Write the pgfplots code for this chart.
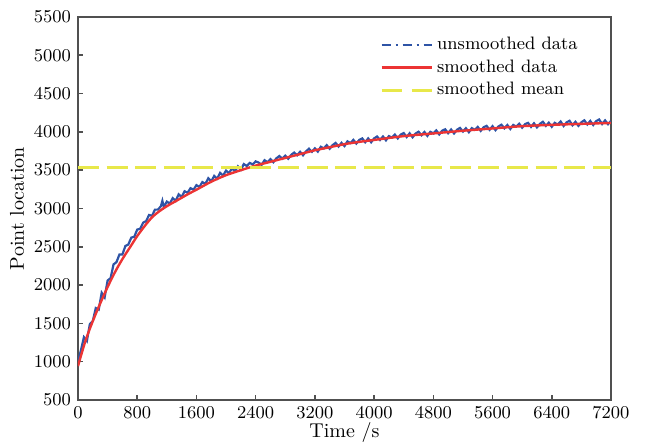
\documentclass[border=0pt]{standalone}
\usepackage{pgfplots}
\pgfplotsset{compat=1.18}
\definecolor{cblue}{RGB}{46,84,166}
\definecolor{cred}{RGB}{236,52,52}
\definecolor{cyel}{RGB}{232,232,74}
\definecolor{caxis}{RGB}{80,80,80}
\pgfplotsset{longleg/.style={legend image code/.code={\draw[##1] (0pt,0pt) -- (25pt,0pt);}}}
\begin{document}
\begin{tikzpicture}
\begin{axis}[
  scale only axis, width=266.5pt, height=191.5pt,
  at={(0,0)}, anchor=south west,
  xmin=0, xmax=7200, ymin=500, ymax=5500,
  xtick={0,800,...,7200}, ytick={500,1000,...,5500},
  tick pos=left, tick align=inside, major tick length=2.5pt,
  axis line style={caxis, line width=1pt},
  every tick/.style={caxis, line width=0.8pt},
  scaled ticks=false,
  xticklabel style={font=\small, /pgf/number format/1000 sep={}},
  yticklabel style={font=\small, /pgf/number format/1000 sep={}},
  xlabel={Time /s}, ylabel={Point location},
  xlabel style={yshift=5pt},
  ylabel style={yshift=-2pt},
  legend style={at={(1,1)}, anchor=north east, xshift=-11.5pt, yshift=-6pt, draw=none, fill=none, font=\small, row sep=-0.5pt},
  legend cell align=left,
  longleg,
]
\addplot[cblue, line width=1.1pt, forget plot] coordinates {
(0,1000)(40,1150)(80,1320)(120,1270)(160,1490)(200,1530)(240,1700)(280,1680)(320,1900)(360,1840)
(400,2060)(440,2090)(480,2270)(520,2300)(560,2400)(600,2400)(640,2510)(680,2530)(720,2620)(760,2630)
(800,2725)(840,2735)(880,2815)(920,2835)(960,2915)(1000,2905)(1040,2985)(1080,2985)(1120,3030)(1140,3100)(1160,3020)
(1200,3090)(1240,3065)(1280,3135)(1320,3100)(1360,3185)(1400,3150)(1440,3225)(1480,3205)(1520,3265)(1560,3245)
(1600,3305)(1640,3280)(1680,3345)(1720,3320)(1760,3395)(1800,3355)(1840,3425)(1880,3390)(1920,3465)(1960,3430)
(2000,3495)(2040,3460)(2080,3525)(2120,3485)(2160,3550)(2200,3505)(2240,3580)(2280,3555)(2320,3595)(2360,3575)
(2400,3615)(2440,3600)(2480,3570)(2520,3630)(2560,3605)(2600,3645)(2640,3605)(2680,3655)(2720,3685)(2760,3650)
(2800,3690)(2840,3650)(2880,3700)(2920,3730)(2960,3695)(3000,3740)(3040,3695)(3080,3745)(3120,3780)(3160,3740)
(3200,3785)(3240,3743)(3280,3806)(3320,3784)(3360,3827)(3400,3780)(3440,3828)(3480,3856)(3520,3809)(3560,3857)
(3600,3815)(3640,3877)(3680,3854)(3720,3896)(3760,3848)(3800,3895)(3840,3915)(3880,3865)(3920,3915)(3960,3865)
(4000,3915)(4040,3940)(4080,3895)(4120,3940)(4160,3890)(4200,3945)(4240,3925)(4280,3965)(4320,3915)(4360,3965)
(4400,3985)(4440,3933)(4480,3982)(4520,3930)(4560,3979)(4600,4002)(4640,3956)(4680,3999)(4720,3948)(4760,4001)
(4800,3980)(4840,4019)(4880,3967)(4920,4016)(4960,4034)(5000,3983)(5040,4031)(5080,3980)(5120,4028)(5160,4052)
(5200,4005)(5240,4048)(5280,3996)(5320,4049)(5360,4027)(5400,4065)(5440,4013)(5480,4061)(5520,4079)(5560,4027)
(5600,4075)(5640,4023)(5680,4071)(5720,4094)(5760,4047)(5800,4090)(5840,4038)(5880,4091)(5920,4069)(5960,4107)
(6000,4055)(6040,4102)(6080,4118)(6120,4065)(6160,4112)(6200,4059)(6240,4105)(6280,4132)(6320,4079)(6360,4120)
(6400,4067)(6440,4118)(6480,4095)(6520,4136)(6560,4077)(6600,4124)(6640,4145)(6680,4086)(6720,4132)(6760,4079)
(6800,4125)(6840,4151)(6880,4097)(6920,4143)(6960,4090)(7000,4141)(7040,4162)(7080,4103)(7120,4150)(7160,4101)(7200,4142)
};
\addplot[cred, line width=1.2pt, smooth, forget plot] coordinates {
(0,943)(100,1270)(200,1530)(300,1760)(400,1975)(500,2170)(600,2340)(700,2490)(800,2640)(900,2770)
(1000,2885)(1100,2965)(1200,3030)(1300,3085)(1400,3140)(1500,3195)(1600,3245)(1800,3350)(2000,3435)(2200,3500)
(2400,3560)(2600,3610)(2800,3660)(3000,3710)(3200,3760)(3400,3800)(3600,3840)(3800,3870)(4000,3895)(4400,3945)
(4800,3980)(5200,4015)(5600,4045)(6000,4075)(6400,4092)(6800,4105)(7200,4117)
};
\addplot[cyel, line width=1.4pt, dash pattern=on 10.5pt off 3.8pt, forget plot] coordinates {(0,3530)(7200,3530)};
\addlegendimage{cblue, line width=1.2pt, dash pattern=on 4.5pt off 2.5pt on 1pt off 2.5pt}
\addlegendentry{unsmoothed data}
\addlegendimage{cred, line width=1.5pt}
\addlegendentry{smoothed data}
\addlegendimage{cyel, line width=1.4pt, dash pattern=on 10pt off 5pt}
\addlegendentry{smoothed mean}
\end{axis}
\pgfresetboundingbox
\useasboundingbox (-39pt,-22pt) rectangle (283.5pt,200pt);
\end{tikzpicture}
\end{document}
